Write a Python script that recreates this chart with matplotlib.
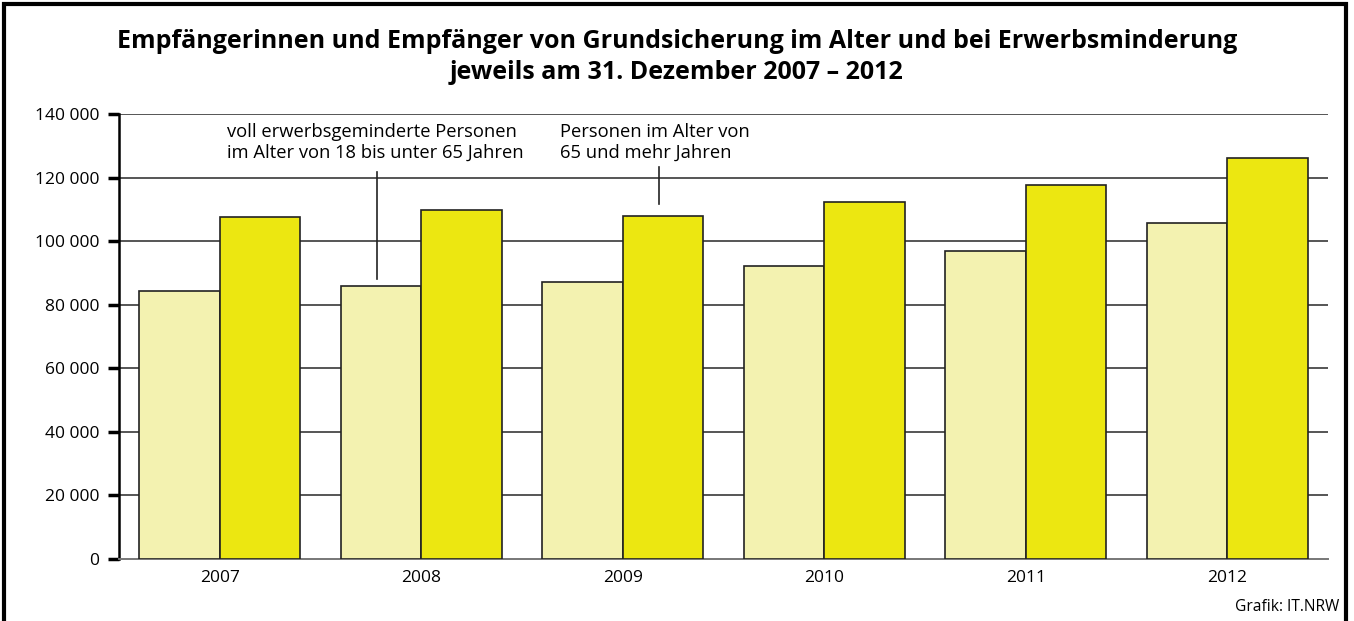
import matplotlib
matplotlib.use("Agg")
import matplotlib.pyplot as plt
from matplotlib.patches import Rectangle
import numpy as np

years = ["2007", "2008", "2009", "2010", "2011", "2012"]
erwerbsgemindert = [84300, 85900, 87100, 92100, 96900, 105600]
alter65 = [107500, 109900, 108000, 112200, 117600, 126100]
yticks = [0, 20000, 40000, 60000, 80000, 100000, 120000, 140000]
ytick_labels = ["0", "20 000", "40 000", "60 000", "80 000", "100 000", "120 000", "140 000"]

title = ("Empfängerinnen und Empfänger von Grundsicherung im Alter und bei Erwerbsminderung\n"
         "jeweils am 31. Dezember 2007 – 2012")
label1 = "voll erwerbsgeminderte Personen\nim Alter von 18 bis unter 65 Jahren"
label2 = "Personen im Alter von\n65 und mehr Jahren"
source = "Grafik: IT.NRW"

plt.rcParams['font.family'] = ['Open Sans', 'DejaVu Sans']

fig = plt.figure(figsize=(13.54, 6.21), dpi=100)
ax = fig.add_axes([0.0879, 0.1003, 0.8929, 0.7161])

x = np.arange(len(years))
w = 0.4
c_light = "#F3F2B0"
c_dark = "#ECE711"
ax.bar(x - w/2, erwerbsgemindert, width=w, color=c_light, edgecolor="#222222", linewidth=1.2, zorder=3)
ax.bar(x + w/2, alter65, width=w, color=c_dark, edgecolor="#222222", linewidth=1.2, zorder=3)

ax.set_xlim(-0.5, len(years) - 0.5)
ax.set_ylim(0, 140000)
ax.set_yticks(yticks)
ax.set_yticklabels(ytick_labels, fontsize=12.5)
ax.set_xticks(x)
ax.set_xticklabels(years, fontsize=12.5)
ax.tick_params(axis="x", length=0, pad=8)
ax.tick_params(axis="y", length=8, width=2.5, color="black", pad=6)

for yv in yticks[1:]:
    ax.axhline(yv, color="#555555", linewidth=1.4, zorder=1)

for s in ["top", "right"]:
    ax.spines[s].set_visible(False)
ax.spines["left"].set_linewidth(1.8)
ax.spines["left"].set_color("black")
ax.spines["bottom"].set_color("#777777")
ax.spines["bottom"].set_linewidth(1.4)

# annotations
ax.text(0.035, 131200, label1, fontsize=13.2, ha="left", va="center", linespacing=1.2, zorder=4)
ax.text(1.69, 131200, label2, fontsize=13.2, ha="left", va="center", linespacing=1.2, zorder=4)
ax.plot([0.78, 0.78], [88100, 121800], color="#222222", linewidth=1.2, zorder=4)
ax.plot([2.18, 2.18], [111600, 123300], color="#222222", linewidth=1.2, zorder=4)

fig.text(0.5, 0.908, title, ha="center", va="center", fontsize=18, fontweight="bold",
         linespacing=1.33, color="black")
fig.text(0.989, 0.022, source, ha="right", va="center", fontsize=11.2)

fig.patches.append(Rectangle((0.003, -0.05), 0.991, 1.043, transform=fig.transFigure,
                             fill=False, edgecolor="black", linewidth=3))

fig.savefig("out.png", dpi=100)
